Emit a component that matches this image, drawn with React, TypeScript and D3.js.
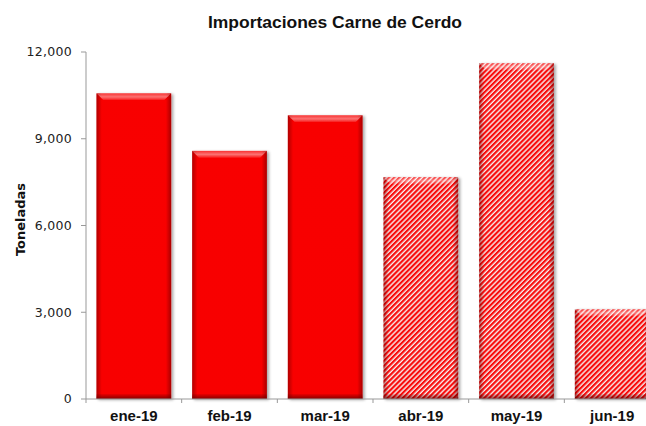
import React from "react";
import * as d3 from "d3";

const categories = ["ene-19", "feb-19", "mar-19", "abr-19", "may-19", "jun-19"];
const values = [10570, 8580, 9810, 7670, 11610, 3100];
const hatched = [false, false, false, true, true, true];
const yTicks = [0, 3000, 6000, 9000, 12000];
const title = "Importaciones Carne de Cerdo";
const yTitle = "Toneladas";

const W = 646;
const H = 426;
const left = 86;
const right = 660;
const top = 52;
const bottom = 399;

export default function App() {
  const x = d3
    .scaleBand<string>()
    .domain(categories)
    .range([left, right])
    .paddingInner(0.22)
    .paddingOuter(0.11);
  const y = d3.scaleLinear().domain([0, 12000]).range([bottom, top]);
  const step = x.step();
  const bw = x.bandwidth();
  const fmt = d3.format(",");
  const bev = 7;

  return (
    <svg
      width={W}
      height={H}
      style={{ position: "absolute", left: 0, top: 0, background: "#fff" }}
    >
      <defs>
        <pattern
          id="hatch"
          width="3.6"
          height="3.6"
          patternUnits="userSpaceOnUse"
          patternTransform="rotate(45)"
        >
          <rect width="3.6" height="3.6" fill="#ffffff" />
          <rect width="2.2" height="3.6" fill="#ff0a0a" />
        </pattern>
        <linearGradient id="sides" x1="0" x2="1" y1="0" y2="0">
          <stop offset="0" stopColor="#700000" stopOpacity="0.55" />
          <stop offset="0.07" stopColor="#700000" stopOpacity="0.05" />
          <stop offset="0.93" stopColor="#700000" stopOpacity="0.05" />
          <stop offset="1" stopColor="#700000" stopOpacity="0.6" />
        </linearGradient>
        <linearGradient id="topHi" x1="0" x2="0" y1="0" y2="1">
          <stop offset="0" stopColor="#ffffff" stopOpacity="0.2" />
          <stop offset="0.5" stopColor="#ffffff" stopOpacity="0.45" />
          <stop offset="1" stopColor="#ffffff" stopOpacity="0.08" />
        </linearGradient>
        <linearGradient id="botDark" x1="0" x2="0" y1="0" y2="1">
          <stop offset="0" stopColor="#600000" stopOpacity="0.1" />
          <stop offset="1" stopColor="#600000" stopOpacity="0.75" />
        </linearGradient>
        <filter id="shadow" x="-10%" y="-10%" width="130%" height="130%">
          <feGaussianBlur in="SourceAlpha" stdDeviation="1.5" />
          <feOffset dx="1.5" dy="1" result="b" />
          <feComponentTransfer>
            <feFuncA type="linear" slope="0.35" />
          </feComponentTransfer>
          <feMerge>
            <feMergeNode />
            <feMergeNode in="SourceGraphic" />
          </feMerge>
        </filter>
      </defs>

      <text
        x={335}
        y={27.5}
        textAnchor="middle"
        fontFamily="Liberation Sans, Arial, sans-serif"
        fontWeight="bold"
        fontSize={16}
        textLength={254}
        lengthAdjust="spacingAndGlyphs"
        fill="#111"
      >
        {title}
      </text>

      <text
        transform={`translate(25,${(top + bottom) / 2 - 6}) rotate(-90)`}
        textAnchor="middle"
        fontFamily="DejaVu Sans, sans-serif"
        fontWeight="bold"
        fontSize={13}
        fill="#111"
      >
        {yTitle}
      </text>

      {/* y axis */}
      <line x1={left} x2={left} y1={top} y2={bottom} stroke="#999" strokeWidth={1} />
      {yTicks.map((t) => (
        <g key={t}>
          <line x1={left - 5} x2={left} y1={y(t)} y2={y(t)} stroke="#999" />
          <text
            x={72}
            y={y(t)}
            dy="0.35em"
            textAnchor="end"
            fontFamily="DejaVu Sans, sans-serif"
            fontSize={12.5}
            letterSpacing={0.3}
            fill="#222"
          >
            {fmt(t)}
          </text>
        </g>
      ))}

      {/* bars */}
      {categories.map((c, i) => {
        const bx = x(c) as number;
        const by = y(values[i]);
        const bh = bottom - by;
        return (
          <g key={c} filter="url(#shadow)">
            <rect
              x={bx}
              y={by}
              width={bw}
              height={bh}
              fill={hatched[i] ? "url(#hatch)" : "#ff0000"}
            />
            <rect x={bx} y={by} width={bw} height={bh} fill="url(#sides)" />
            <polygon
              points={`${bx},${by} ${bx + bw},${by} ${bx + bw - bev},${by + bev} ${bx + bev},${by + bev}`}
              fill="url(#topHi)"
            />
            <rect
              x={bx}
              y={bottom - 5}
              width={bw}
              height={5}
              fill="url(#botDark)"
            />
          </g>
        );
      })}

      {/* x axis */}
      <line x1={left} x2={right} y1={bottom} y2={bottom} stroke="#999" strokeWidth={1} />
      {d3.range(categories.length + 1).map((i) => (
        <line
          key={i}
          x1={left + i * step}
          x2={left + i * step}
          y1={bottom}
          y2={bottom + 4}
          stroke="#999"
        />
      ))}
      {categories.map((c) => (
        <text
          key={c}
          x={(x(c) as number) + bw / 2}
          y={421}
          textAnchor="middle"
          fontFamily="Liberation Sans, Arial, sans-serif"
          fontWeight="bold"
          fontSize={15}
          fill="#111"
        >
          {c}
        </text>
      ))}
    </svg>
  );
}
